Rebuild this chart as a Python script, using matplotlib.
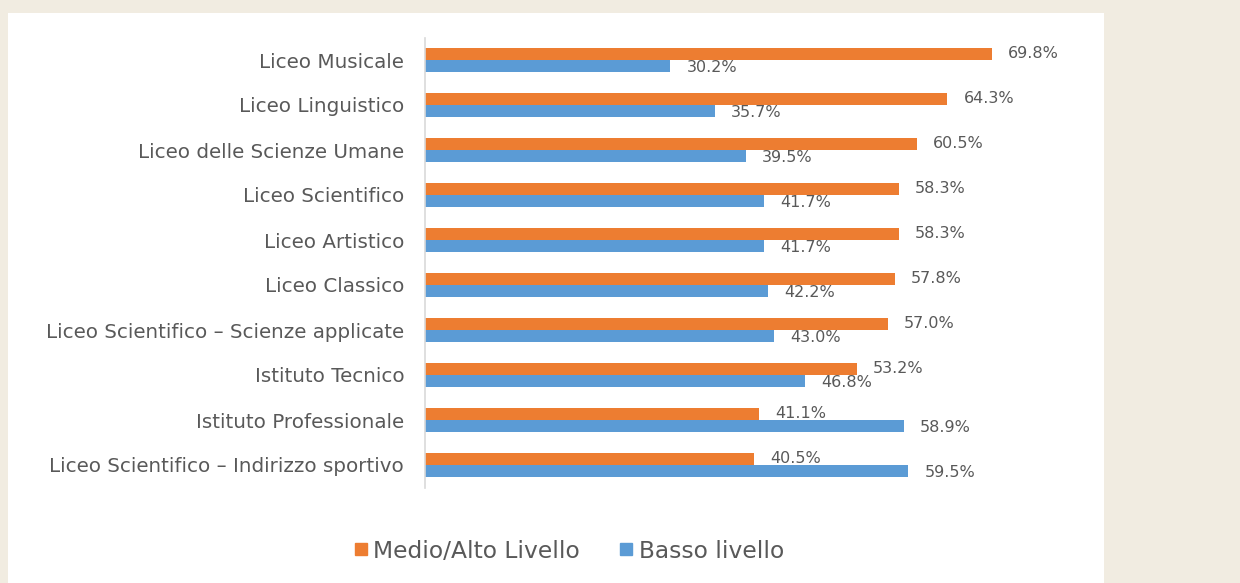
import matplotlib
matplotlib.use('Agg')
import matplotlib.pyplot as plt
from matplotlib.patches import Rectangle
from matplotlib.lines import Line2D

categories = [
    'Liceo Musicale',
    'Liceo Linguistico',
    'Liceo delle Scienze Umane',
    'Liceo Scientifico',
    'Liceo Artistico',
    'Liceo Classico',
    'Liceo Scientifico – Scienze applicate',
    'Istituto Tecnico',
    'Istituto Professionale',
    'Liceo Scientifico – Indirizzo sportivo',
]
medio_alto = [69.8, 64.3, 60.5, 58.3, 58.3, 57.8, 57.0, 53.2, 41.1, 40.5]
basso = [30.2, 35.7, 39.5, 41.7, 41.7, 42.2, 43.0, 46.8, 58.9, 59.5]
series_names = ['Medio/Alto Livello', 'Basso livello']

ORANGE = '#ED7D31'
BLUE = '#5B9BD5'
TEXT = '#595959'
BG = '#F1ECE1'

plt.rcParams['font.family'] = ['DejaVu Sans']

W, H = 1240, 583
fig = plt.figure(figsize=(W / 100, H / 100), dpi=100)
fig.patch.set_facecolor(BG)

# white chart panel
fig.patches.append(Rectangle((8 / W, 0), (1104 - 8) / W, (H - 13) / H,
                             transform=fig.transFigure, facecolor='white',
                             edgecolor='none', zorder=-5))

ax = fig.add_axes([425 / W, (H - 487.5) / H, 650 / W, 450 / H])
ax.set_facecolor('none')
ax.set_zorder(2)

ys = list(range(len(categories)))
off = 0.133
bh = 0.255
ax.barh([y - off for y in ys], medio_alto, height=bh, color=ORANGE)
ax.barh([y + off for y in ys], basso, height=bh, color=BLUE)

for y, a, b in zip(ys, medio_alto, basso):
    ax.annotate(f'{a:.1f}%', (a, y - off), xytext=(11.5, 0.5),
                textcoords='offset points', va='center', ha='left',
                fontsize=11.5, color=TEXT)
    ax.annotate(f'{b:.1f}%', (b, y + off), xytext=(11.5, -1),
                textcoords='offset points', va='center', ha='left',
                fontsize=11.5, color=TEXT)

ax.set_xlim(0, 80)
ax.set_ylim(len(categories) - 0.5, -0.5)
ax.set_yticks(ys)
ax.set_yticklabels(categories, fontsize=14.3, color=TEXT)
ax.tick_params(axis='y', length=0, pad=15)
ax.set_xticks([])
for s in ['top', 'right', 'bottom']:
    ax.spines[s].set_visible(False)
ax.spines['left'].set_color('#D9D9D9')
ax.spines['left'].set_linewidth(1.2)

handles = [Line2D([], [], marker='s', linestyle='none', markersize=9,
                  color=c) for c in [ORANGE, BLUE]]
leg = fig.legend(handles, series_names, loc='center',
                 bbox_to_anchor=(567 / W, (H - 551) / H), ncol=2,
                 frameon=False, fontsize=16.8, handletextpad=0.1,
                 columnspacing=1.5, handlelength=0.9)
leg.set_zorder(3)
for t in leg.get_texts():
    t.set_color(TEXT)

fig.savefig('out.png', dpi=100, facecolor=BG)
